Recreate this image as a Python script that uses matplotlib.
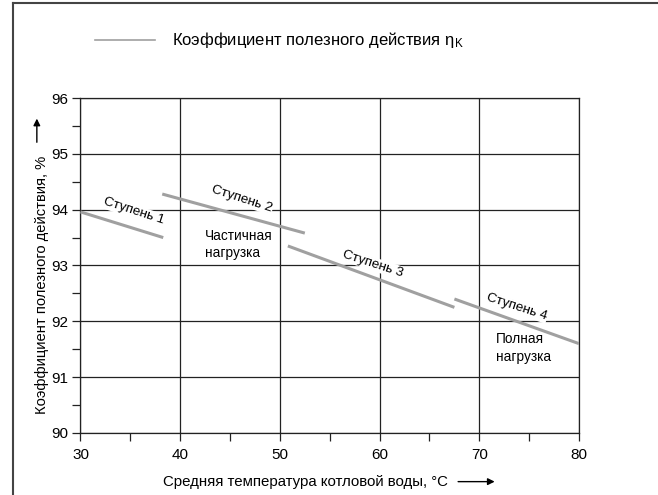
import matplotlib.pyplot as plt
from matplotlib.lines import Line2D
from matplotlib.ticker import MultipleLocator

plt.rcParams['font.family'] = ['Liberation Sans', 'DejaVu Sans']
plt.rcParams['mathtext.fontset'] = 'custom'
plt.rcParams['mathtext.rm'] = 'Liberation Sans'

# Ступени горелки: начало и конец участков линии КПД
ступени = ['Ступень 1', 'Ступень 2', 'Ступень 3', 'Ступень 4']
x_нач = [30.0, 38.2, 50.8, 67.5]
x_кон = [38.3, 52.5, 67.5, 80.0]
y_нач = [93.96, 94.28, 93.35, 92.40]
y_кон = [93.50, 93.58, 92.25, 91.60]

# подписи ступеней (позиция в данных)
подпись_x = [35.3, 46.2, 59.3, 73.75]
подпись_y = [93.97, 94.19, 93.03, 92.25]

СЕРЫЙ = '#a0a0a0'
ТЁМНЫЙ = '#222222'

fig = plt.figure(figsize=(6.58, 4.95), dpi=100)
ax = fig.add_axes([0.1223, 0.1253, 0.7577, 0.6767])

for i in range(len(ступени)):
    ax.plot([x_нач[i], x_кон[i]], [y_нач[i], y_кон[i]], color=СЕРЫЙ, lw=2.2,
            solid_capstyle='butt', zorder=3)
    ax.text(подпись_x[i], подпись_y[i], ступени[i], fontsize=9.7, rotation=-18,
            rotation_mode='anchor', ha='center', va='center', zorder=4,
            bbox=dict(facecolor='white', edgecolor='none', pad=0.5))

ax.text(42.45, 93.37, 'Частичная\nнагрузка', fontsize=9.8, ha='left', va='center',
        linespacing=1.3)
ax.text(71.7, 91.52, 'Полная\nнагрузка', fontsize=9.8, ha='left', va='center',
        linespacing=1.3)

ax.set_xlim(30, 80)
ax.set_ylim(90, 96)
ax.xaxis.set_major_locator(MultipleLocator(10))
ax.xaxis.set_minor_locator(MultipleLocator(5))
ax.yaxis.set_major_locator(MultipleLocator(1))
ax.yaxis.set_minor_locator(MultipleLocator(0.5))
ax.grid(True, which='major', color=ТЁМНЫЙ, lw=0.9)
ax.tick_params(which='both', direction='out', color=ТЁМНЫЙ, width=0.9,
               length=6, labelsize=11)
ax.tick_params(axis='x', pad=5)
ax.tick_params(axis='y', pad=3)
for s in ax.spines.values():
    s.set_color(ТЁМНЫЙ)
    s.set_linewidth(0.9)

# подписи осей со стрелками
fig.text(0.464, 0.026, 'Средняя температура котловой воды, °C', fontsize=10.8,
         ha='center', va='center')
ax.annotate('', xy=(0.756, 0.027), xytext=(0.692, 0.027), xycoords='figure fraction',
            arrowprops=dict(arrowstyle='-|>', color='black', lw=1.0, mutation_scale=10))
fig.text(0.064, 0.424, 'Коэффициент полезного действия, %', fontsize=10.6,
         rotation=90, ha='center', va='center')
ax.annotate('', xy=(0.056, 0.766), xytext=(0.056, 0.707), xycoords='figure fraction',
            arrowprops=dict(arrowstyle='-|>', color='black', lw=1.0, mutation_scale=10))

# легенда сверху
fig.add_artist(Line2D([0.144, 0.236], [0.919, 0.919], color=СЕРЫЙ, lw=1.2))
fig.text(0.262, 0.919, 'Коэффициент полезного действия $\\mathrm{\\eta_K}$',
         fontsize=12, ha='left', va='center')

# рамка рисунка (левая и верхняя линии)
fig.add_artist(Line2D([0.0198, 0.0198], [0.0, 0.994], color='#444444', lw=1.5))
fig.add_artist(Line2D([0.0198, 1.0], [0.994, 0.994], color='#444444', lw=1.5))

fig.savefig('out.png', dpi=100)
